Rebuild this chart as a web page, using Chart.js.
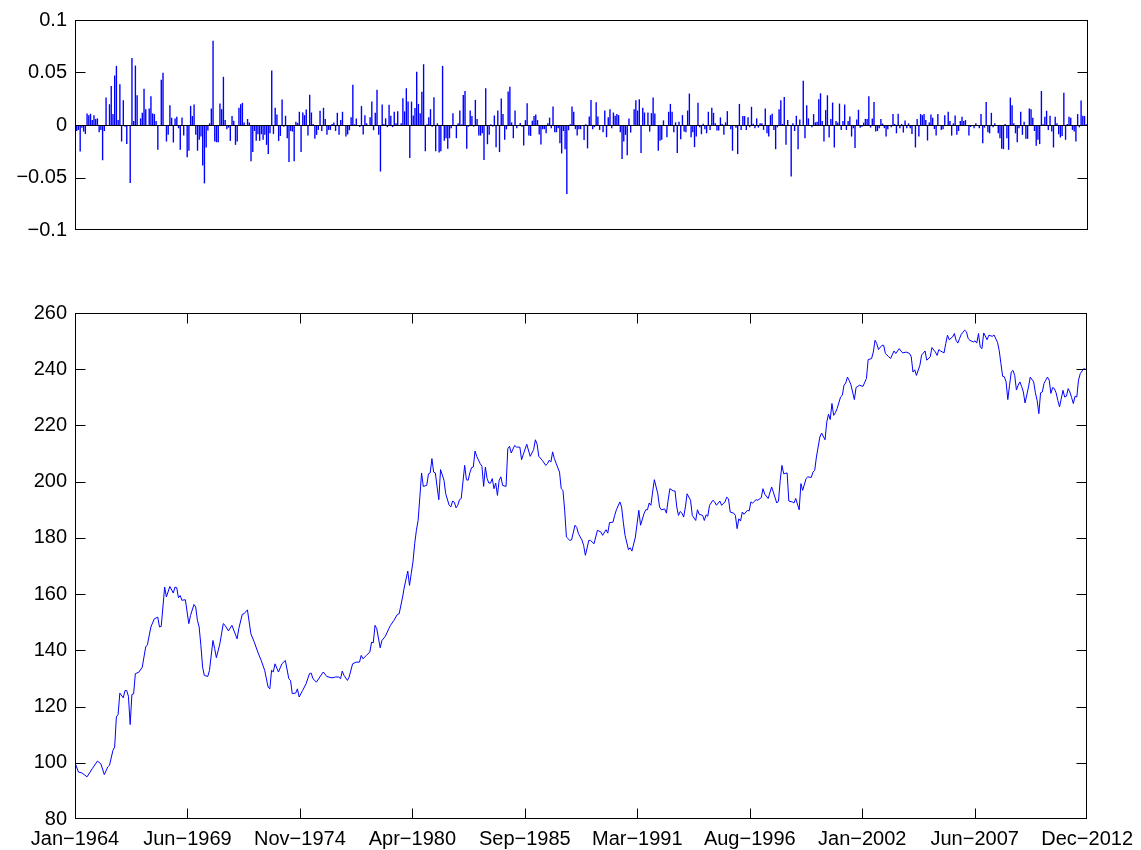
<!DOCTYPE html>
<html>
<head>
<meta charset="utf-8">
<script src="https://cdn.jsdelivr.net/npm/chart.js@4/dist/chart.umd.min.js"></script>
<style>
  html, body { margin: 0; padding: 0; background: #fff; }
  #wrap { position: relative; width: 1141px; height: 850px; }
  canvas { position: absolute; left: 0; }
  #top { top: 0; }
  #bottom { top: 290px; }
</style>
</head>
<body>
<div id="wrap">
  <canvas id="top" width="1141" height="250"></canvas>
  <canvas id="bottom" width="1141" height="560"></canvas>
</div>
<script>
// month index (0 = Jan 1964) and monthly return
const returnPoints = [
  [1,-0.0057],[2,-0.0047],[3,-0.0252],[4,-0.0025],[5,-0.0063],[6,-0.0085],[7,0.011],[8,0.0094],[9,0.0107],[10,0.0047],
  [11,0.0094],[12,0.0057],[13,0.0063],[14,-0.0069],[15,-0.0047],[16,-0.0336],[17,-0.0057],[18,0.0261],[20,0.0198],[21,0.0371],
  [22,0.0104],[23,0.0472],[24,0.0563],[25,0.0047],[26,0.0387],[27,-0.0157],[28,0.0236],[29,-0.0016],[30,-0.0182],[32,-0.0553],
  [33,0.0638],[34,0.0038],[35,0.0566],[36,0.0283],[38,0.0063],[39,0.0116],[40,0.0346],[41,0.0151],[43,0.0157],[44,0.0274],
  [45,0.011],[46,0.0104],[47,0.0038],[48,-0.0236],[50,0.0431],[51,0.0497],[53,-0.0157],[54,-0.0094],[55,0.0189],[56,0.0069],
  [57,-0.0167],[58,0.0063],[59,0.0079],[60,-0.0031],[61,-0.0236],[62,0.0072],[63,-0.0101],[65,-0.0308],[66,-0.0245],[67,0.0182],
  [68,0.0085],[69,0.0195],[70,-0.0094],[71,-0.0245],[72,-0.0141],[73,-0.011],[74,-0.0386],[75,-0.0556],[76,-0.0214],[77,-0.0053],
  [78,0.0016],[79,0.0157],[80,0.0802],[81,-0.0157],[82,-0.0164],[83,-0.0164],[84,0.0204],[85,0.0151],[86,0.0459],[87,0.0047],
  [88,-0.0041],[89,-0.0025],[90,-0.0151],[91,0.0085],[92,0.0041],[93,-0.0189],[94,-0.0157],[95,0.0164],[96,0.0198],[97,0.0211],
  [98,0.0025],[100,0.0057],[101,0.0025],[102,-0.0346],[103,-0.0258],[104,-0.0057],[105,-0.0151],[106,-0.0088],[107,-0.0151],[108,-0.0088],
  [109,-0.0141],[110,-0.0094],[111,-0.0189],[112,-0.0277],[113,-0.0079],[114,0.0519],[115,-0.0085],[116,0.0164],[117,0.0101],[118,-0.0151],
  [119,-0.0104],[120,0.0242],[121,-0.0016],[122,0.0088],[123,-0.0126],[124,-0.0352],[125,-0.0057],[126,-0.0063],[127,-0.0346],[128,0.0031],
  [129,0.002],[130,0.0126],[131,-0.0258],[132,0.0119],[133,0.0094],[134,0.0148],[135,-0.0101],[136,0.0289],[137,0.0119],[138,0.001],
  [139,-0.0132],[140,-0.0094],[141,-0.0047],[142,0.0135],[143,-0.0057],[144,0.0164],[145,0.0057],[146,-0.0094],[147,-0.0047],[148,-0.0047],
  [149,0.001],[150,0.0025],[151,-0.0057],[152,0.0116],[153,-0.0094],[154,0.0047],
  [155,0.0126],[157,-0.011],[158,-0.009],[159,-0.005],[160,0.0075],[161,0.0384],[162,0.0006],[163,0.0063],[165,-0.002],[166,0.018],
  [167,-0.009],[168,0.0094],[169,0.0016],[171,0.0075],[172,0.0223],[173,-0.005],[174,0.0116],[175,0.0336],[176,-0.0094],[177,-0.0443],
  [178,0.0195],[179,0.001],[180,0.0063],[181,-0.002],[182,0.0192],[183,0.0088],[184,-0.002],[185,0.0126],[186,0.0016],[187,0.0132],
  [189,0.0016],[190,0.0255],[191,0.013],[192,0.035],[193,0.0223],[194,-0.0314],[195,0.0223],[196,0.0091],[197,0.0162],[198,0.0506],
  [199,0.0201],[200,0.0113],[201,0.0317],[202,0.0579],[203,-0.025],[204,0.0006],[205,0.0075],[206,0.0151],[207,-0.0016],[208,0.0264],
  [209,-0.025],[210,0.0016],[211,-0.0261],[212,-0.025],[213,0.0563],[214,-0.0151],[215,-0.0126],[216,-0.0226],[217,-0.0126],[218,-0.003],
  [219,0.0111],[221,-0.0126],[222,0.0016],[223,0.0138],[224,0.0006],[225,0.0286],[226,0.0324],[227,-0.0226],[228,-0.0016],[229,0.0138],
  [230,0.0085],[231,-0.0016],[232,0.0239],[233,0.0057],[234,-0.0101],[235,-0.0101],[236,-0.0079],[237,-0.0333],[238,0.0349],[239,-0.0183],
  [240,-0.0094],[241,0.0006],[242,-0.0016],[243,0.0091],[244,-0.0211],[245,0.0138],[246,-0.0258],[247,0.0252],[248,0.0104],[249,-0.0141],
  [250,-0.0041],[251,0.0318],[252,0.0365],[253,0.0025],[254,-0.0126],[255,0.0138],[256,-0.003],[257,-0.001],[258,0.002],[259,-0.0016],
  [260,-0.0195],[261,0.0047],[262,0.0207],[263,-0.0101],[264,-0.0104],[265,0.0041],[266,0.0085],[267,0.01],[268,0.0047],[269,-0.009],
  [270,-0.0186],[271,-0.004],[272,-0.004],[273,-0.0079],[274,0.0016],[275,0.007],[276,-0.003],[277,0.0176],[278,-0.0069],[279,-0.0069],
  [280,-0.003],[281,-0.0173],[282,-0.0271],[283,-0.0057],[284,-0.023],[285,-0.0657],[286,-0.005],[287,0.0006],[288,0.0176],[289,0.0126],
  [290,-0.004],[291,-0.0101],[292,-0.004],[293,-0.004],[295,-0.0142],[296,0.0006],[297,-0.0223],[298,0.0082],[299,0.0239],[300,-0.004],
  [301,-0.002],[302,0.0217],[303,0.0082],
  [304,-0.0047],[306,-0.0069],[307,0.0138],[308,-0.0116],[309,0.0075],[310,0.0151],[311,-0.003],[312,0.0119],[313,0.0088],[314,0.0104],
  [315,0.0094],[316,-0.0069],[317,-0.0324],[318,-0.0157],[319,-0.0094],[320,-0.0289],[321,0.0063],[322,-0.0072],[324,0.0151],[325,0.0236],
  [326,0.0138],[327,0.0245],[328,-0.0267],[329,0.0164],[330,0.0119],[332,0.0119],[333,-0.0063],[334,0.0113],[335,0.0261],[336,0.011],
  [338,-0.0245],[339,-0.0151],[340,-0.0141],[341,0.0044],[343,-0.0116],[344,0.0126],[345,0.0201],[346,0.0126],[347,-0.0069],[348,0.0025],
  [349,-0.0267],[350,0.003],[351,-0.0135],[352,0.0094],[353,-0.0063],[354,-0.0069],[355,0.0138],[356,0.0299],[357,-0.0116],[358,-0.0069],
  [359,-0.0211],[360,-0.011],[361,0.0211],[362,-0.0022],[363,-0.0088],[364,0.0013],[365,-0.0041],[366,-0.0079],[367,0.0126],[368,-0.0047],
  [369,0.0164],[370,0.0116],[371,0.0016],[372,-0.0053],[373,-0.0053],[374,0.0072],[375,0.001],[376,-0.0094],[377,0.0025],[378,0.0132],
  [380,-0.0041],[381,-0.0245],[383,-0.0025],[384,-0.0277],[385,0.0201],[386,-0.0047],[387,0.0085],[388,0.0085],[389,-0.0047],[390,0.0075],
  [391,-0.0022],[392,0.0173],[393,0.0013],[394,-0.003],[395,0.0063],[396,-0.0025],[397,0.0016],[398,0.0016],[399,-0.0047],[400,0.0157],
  [401,-0.0079],[402,-0.011],[403,0.0094],[404,0.0107],[405,-0.0047],[406,-0.023],[407,-0.0022],[408,0.0151],[409,0.0236],[410,0.001],
  [411,0.0267],[412,-0.0189],[413,0.0047],[415,-0.0491],[416,0.0016],[417,-0.0057],[418,0.0088],[419,-0.023],[420,0.0053],[422,0.0421],
  [423,-0.0126],[424,0.0189],[425,0.0063],[427,-0.0022],[428,0.0104],[429,0.0025],[430,0.0031],[431,0.0245],[432,0.0302],[433,0.0038],
  [434,-0.0157],[435,0.0142],[436,0.0283],[437,-0.0119],[438,0.0057],[439,0.0214],[440,-0.0214],[441,0.0038],[442,0.0025],[443,0.0204],
  [444,-0.0047],[445,0.0038],[446,0.0195],[447,-0.0047],[448,0.0038],[449,0.0082],[450,-0.011],[451,-0.003],[452,-0.022],[453,0.0053],
  [454,0.0145],
  [455,-0.0025],[456,-0.0016],[457,0.0022],[458,0.0057],[459,0.0057],[460,0.0274],[461,-0.0025],[462,0.0063],[463,0.022],[464,-0.0063],
  [465,-0.0057],[466,-0.003],[467,0.0057],[468,0.0013],[469,-0.003],[470,-0.011],[471,-0.0041],[473,-0.0022],[474,0.0104],[475,0.001],
  [476,-0.0079],[477,0.0107],[478,-0.003],[479,0.001],[480,-0.0072],[481,0.0044],[482,-0.003],[483,0.0016],[484,-0.003],[485,-0.0085],
  [487,-0.0214],[488,0.0057],[489,-0.011],[490,0.0104],[491,0.0094],[492,0.0104],[493,0.0047],[494,-0.0148],[495,0.0025],[496,0.0101],
  [497,0.0069],[498,-0.0038],[499,-0.0101],[500,0.0104],[502,-0.0047],[503,-0.0041],[504,0.0094],[506,0.0126],[507,0.0038],[508,-0.0101],
  [509,0.0016],[510,0.0091],[511,-0.0094],[512,-0.0057],[513,0.0038],[514,0.0079],[515,0.0038],[516,0.0047],[517,-0.001],[518,-0.0101],
  [519,-0.0019],[521,-0.003],[522,0.0016],[524,-0.003],[525,0.0104],[526,-0.0173],[527,-0.0025],[528,0.022],[529,-0.0069],[530,-0.0079],
  [531,0.0116],[532,-0.0022],[533,0.0016],[535,-0.0079],[536,-0.0126],[537,-0.0226],[538,-0.023],[539,0.001],[540,-0.0126],[541,-0.0236],
  [542,0.0261],[543,0.0189],[544,0.0016],[545,-0.0079],[546,-0.0164],[547,-0.003],[548,0.0126],[549,-0.0094],[550,0.0031],[551,-0.0132],
  [552,-0.0132],[553,0.0157],[554,0.0151],[555,0.0069],[556,-0.0057],[557,-0.0198],[558,-0.0141],[559,-0.0182],[560,0.0324],[561,0.0006],
  [562,0.0079],[563,0.0135],[564,-0.0047],[565,0.0088],[566,-0.0063],[567,-0.0214],[568,0.0079],[569,0.0016],[570,-0.0088],[571,-0.0119],
  [572,-0.0104],[573,0.0308],[574,-0.0141],[575,0.001],[576,0.0079],[577,0.0069],[578,-0.0047],[579,-0.0063],[580,-0.0157],[581,0.0104],
  [582,-0.0022],[583,0.0233],[584,0.0088],[585,0.0085],[586,0.0006]
];

// month index and index level
const levelPoints = [
  [0,100],[2,96.7],[4,96.4],[7,95.0],[10,97.9],[13,100.6],[15,99.6],[17,95.8],[19,98.5],[20,99.1],
  [22,104.4],[23,105.6],[24,116.3],[25,117.2],[26,124.8],[28,123.1],[29,125.7],[30,125.7],[31,123.6],[32,113.6],
  [33,124.3],[34,124.5],[35,131.7],[37,132.2],[39,134.0],[41,141.2],[42,142.0],[44,148.3],[46,151.2],[48,151.8],
  [49,148.3],[50,148.5],[52,162.5],[53,159.0],[55,162.7],[57,160.4],[58,162.5],[59,162.3],[60,158.7],[61,159.5],
  [62,157.8],[64,158.0],[66,149.5],[67,152.4],[69,156.3],[70,155.4],[71,150.7],[72,148.3],[73,141.8],[74,134.0],
  [75,131.1],[77,130.7],[78,132.9],[80,143.5],[81,140.6],[82,137.4],[84,142.3],[86,149.5],[87,148.9],[89,146.9],
  [91,148.9],[94,144.1],[95,147.7],[97,152.8],[98,153.0],[100,154.4],[102,145.9],[104,142.9],[106,139.4],[108,136.4],
  [110,132.9],[112,126.9],[113,126.3],[114,132.9],[115,132.3],[116,135.2],[118,132.3],[120,135.2],[122,136.4],[124,129.9],
  [125,129.3],[126,124.6],[128,124.8],[129,126.3],[130,123.4],[132,125.7],[134,128.1],[136,131.7],[137,131.9],[138,129.9],
  [140,128.7],[142,130.5],[144,132.3],[146,130.7],[149,130.2],[151,130.5],[153,130.5],
  [154,129.9],[155,132.6],[156,131.1],[158,129.3],[159,130.5],[161,135.2],[163,135.8],[165,135.8],[166,138.2],[167,137.0],
  [169,138.2],[171,139.4],[172,142.9],[173,142.7],[174,148.9],[175,147.7],[177,140.9],[178,143.5],[180,145.0],[182,147.7],
  [183,148.9],[185,150.7],[187,152.8],[188,153.0],[190,159.0],[191,162.5],[193,168.2],[194,163.1],[195,167.3],[196,171.4],
  [197,177.9],[198,182.7],[199,186.2],[200,194.5],[201,203.1],[202,198.3],[204,198.7],[205,202.8],[206,203.1],[207,208.2],
  [208,203.4],[209,203.1],[210,198.1],[211,193.6],[212,204.3],[214,200.5],[215,195.7],[217,191.6],[218,191.0],[219,193.1],
  [220,192.7],[221,190.7],[222,191.6],[223,193.6],[224,194.0],[226,205.8],[227,200.7],[228,200.5],[229,203.1],[230,205.0],
  [231,205.2],[232,210.9],[233,209.0],[235,206.4],[236,205.5],[237,198.3],[238,205.2],[239,201.1],[240,199.5],[241,199.5],
  [242,201.1],[243,197.5],[244,199.5],[245,195.1],[246,200.5],[247,201.7],[248,198.7],[250,198.3],[251,211.7],[252,212.6],
  [253,210.2],[255,212.9],[256,212.3],[257,212.3],[258,212.3],[259,207.8],[260,209.7],[262,213.3],[264,209.0],[266,211.4],
  [267,214.9],[268,213.3],[269,209.0],[271,207.6],[273,205.8],[274,206.4],[275,207.6],[276,207.0],[277,210.6],[278,208.2],
  [279,206.6],[281,203.4],[282,197.5],[283,196.9],[284,189.8],[285,180.3],[287,179.1],[288,179.3],[290,184.5],[291,183.7],
  [292,181.5],[293,180.3],[294,179.3],[295,177.3],[296,173.8],[298,179.1],[299,179.1],[301,177.9],[303,182.7],
  [305,182.1],[306,180.9],[308,182.9],[309,181.7],[310,185.4],[312,185.6],[313,188.0],[314,190.0],[316,192.8],[317,191.0],
  [318,185.6],[319,180.9],[321,175.8],[322,176.5],[323,175.3],[325,180.3],[326,185.1],[327,189.8],[328,184.5],[330,188.6],
  [331,190.0],[332,190.0],[333,192.4],[334,191.6],[335,196.3],[336,200.7],[338,195.7],[339,191.0],[340,190.0],[342,190.3],
  [343,188.8],[344,193.4],[345,197.5],[347,196.7],[348,196.7],[349,191.0],[350,188.0],[351,189.4],[352,188.8],[353,187.4],
  [354,191.0],[355,195.7],[357,193.4],[358,188.0],[360,186.2],[361,190.0],[362,188.4],[364,188.0],[365,186.2],[366,188.2],
  [367,187.7],[368,191.6],[370,193.4],[371,192.8],[372,191.6],[374,193.1],[375,191.6],[377,192.8],[378,194.5],[379,193.9],
  [380,189.2],[382,188.8],[383,188.0],[384,183.3],[385,186.8],[386,186.0],[387,189.2],[388,188.4],[390,189.8],[391,189.6],
  [392,192.8],[393,192.4],[395,193.6],[396,193.4],[398,194.3],[399,197.5],[400,195.6],[402,194.0],[404,198.1],[405,196.3],
  [407,192.4],[408,193.1],[409,200.5],[410,205.8],[411,202.8],[413,203.1],[414,193.1],[416,192.8],[417,192.4],[418,194.0],
  [420,190.0],[421,199.3],[422,196.9],[424,201.1],[425,201.7],[427,201.5],[428,203.4],[429,204.0],[430,208.8],[432,215.9],
  [433,217.3],[435,214.9],[436,221.2],[437,224.0],[438,222.1],[439,227.8],[440,223.6],[441,224.5],[442,226.0],[444,230.1],
  [445,230.7],[446,234.3],[447,235.1],[448,237.2],[449,236.0],[450,234.5],[452,229.2],[453,233.5],[455,234.3],
  [457,233.9],[459,236.7],[460,243.4],[462,243.8],[463,246.1],[464,250.3],[465,249.1],[466,247.0],[468,248.5],[469,248.5],
  [470,245.6],[472,244.4],[473,243.8],[475,246.5],[476,245.6],[478,247.3],[479,246.5],[480,245.8],[482,246.1],[484,245.6],
  [485,244.4],[486,239.0],[487,239.8],[488,237.8],[490,241.4],[491,245.0],[493,246.5],[494,243.2],[496,244.4],[497,247.7],
  [499,246.1],[500,244.9],[501,247.0],[502,246.5],[504,245.8],[505,249.1],[506,252.1],[507,250.5],[509,251.5],[510,252.7],
  [511,250.3],[512,249.3],[513,250.9],[514,252.4],[516,253.9],[517,253.3],[518,250.9],[519,250.3],[521,249.7],[522,250.1],
  [523,249.3],[524,252.7],[525,247.9],[526,247.3],[527,252.9],[529,250.5],[530,252.1],[532,251.7],[533,252.2],[535,249.6],
  [536,246.7],[537,242.0],[538,237.5],[539,237.3],[540,235.5],[541,229.2],[542,234.3],[543,239.0],[544,239.6],[545,237.8],
  [546,232.6],[547,234.3],[548,235.5],[549,233.9],[550,231.9],[551,228.0],[553,233.7],[554,237.2],[556,235.5],[557,231.6],
  [558,228.9],[559,224.2],[560,231.6],[561,231.9],[562,234.9],[563,236.1],[564,237.2],[565,236.1],[566,231.4],[567,233.5],
  [568,233.1],[569,231.6],[570,228.9],[571,226.6],[573,232.5],[574,230.1],[575,230.4],[576,233.1],[577,231.9],[578,229.9],
  [579,227.8],[580,230.4],[581,230.1],[582,236.1],[583,238.4],[585,240.2],[587,239.8]
];

const xTickLabels = ['Jan\u22121964', 'Jun\u22121969', 'Nov\u22121974', 'Apr\u22121980', 'Sep\u22121985',
                     'Mar\u22121991', 'Aug\u22121996', 'Jan\u22122002', 'Jun\u22122007', 'Dec\u22122012'];
const topTickValues = [-0.1, -0.05, 0, 0.05, 0.1];
const topTickLabels = ['\u22120.1', '\u22120.05', '0', '0.05', '0.1'];
const lastMonth = 587;

const font = { family: '"Liberation Sans", Arial, Helvetica, sans-serif', size: 20 };
const blue = 'rgb(0,0,255)';

// box round the plot area, tick marks pointing inwards, zero line on the upper panel
const framePlugin = {
  id: 'frame',
  afterDraw(chart, args, opts) {
    const ctx = chart.ctx;
    const a = chart.chartArea;
    const L = Math.round(a.left) + 0.5, R = Math.round(a.right) - 0.5;
    const T = Math.round(a.top) + 0.5, B = Math.round(a.bottom) - 0.5;
    const len = 10;
    ctx.save();
    ctx.strokeStyle = '#000';
    ctx.lineWidth = 1;
    ctx.beginPath();
    const ys = chart.scales.y;
    ys.ticks.forEach(t => {
      const p = Math.round(ys.getPixelForValue(t.value)) + 0.5;
      if (p < T + 2 || p > B - 2) return;  // ends sit on the box
      ctx.moveTo(L, p); ctx.lineTo(L + len, p);
      ctx.moveTo(R, p); ctx.lineTo(R - len, p);
    });
    if (opts.xTicks) {
      const xs = chart.scales.x;
      xs.ticks.forEach(t => {
        const p = Math.round(xs.getPixelForValue(t.value)) + 0.5;
        if (p < L + 2 || p > R - 2) return;
        ctx.moveTo(p, T); ctx.lineTo(p, T + len);
        ctx.moveTo(p, B); ctx.lineTo(p, B - len);
      });
    }
    if (opts.zeroLine) {
      const z = Math.round(ys.getPixelForValue(0)) + 0.5;
      ctx.moveTo(L, z); ctx.lineTo(R, z);
    }
    ctx.stroke();
    ctx.strokeRect(L, T, R - L, B - T);
    ctx.restore();
  }
};

new Chart(document.getElementById('top'), {
  type: 'bar',
  data: {
    datasets: [{
      data: returnPoints.map(p => ({ x: p[0], y: p[1] })),
      backgroundColor: blue,
      borderWidth: 0,
      barPercentage: 0.8,
      categoryPercentage: 1
    }]
  },
  options: {
    responsive: false,
    animation: false,
    layout: { padding: { top: 18, right: 53, bottom: 18, left: 0 } },
    plugins: {
      legend: { display: false },
      tooltip: { enabled: false },
      frame: { xTicks: false, zeroLine: true }
    },
    scales: {
      x: { type: 'linear', min: 0, max: lastMonth, offset: false, display: false },
      y: {
        min: -0.1,
        max: 0.1,
        afterFit: s => { s.width = 75; },
        afterBuildTicks: s => { s.ticks = topTickValues.map(v => ({ value: v })); },
        ticks: { callback: (v, i) => topTickLabels[i], color: '#000', font: font, padding: 8 },
        grid: { display: false, drawTicks: false },
        border: { display: false }
      }
    }
  },
  plugins: [framePlugin]
});

new Chart(document.getElementById('bottom'), {
  type: 'line',
  data: {
    datasets: [{
      data: levelPoints.map(p => ({ x: p[0], y: p[1] })),
      borderColor: blue,
      borderWidth: 1,
      pointRadius: 0,
      tension: 0,
      fill: false
    }]
  },
  options: {
    responsive: false,
    animation: false,
    layout: { padding: { top: 23, right: 53, bottom: 0, left: 0 } },
    plugins: {
      legend: { display: false },
      tooltip: { enabled: false },
      frame: { xTicks: true, zeroLine: false }
    },
    scales: {
      x: {
        type: 'linear',
        min: 0,
        max: lastMonth,
        offset: false,
        afterFit: s => { s.height = 31; },
        afterBuildTicks: s => {
          s.ticks = xTickLabels.map((_, i) => ({ value: i * lastMonth / (xTickLabels.length - 1) }));
        },
        ticks: { callback: (v, i) => xTickLabels[i], autoSkip: false, maxRotation: 0, color: '#000', font: font, padding: 8 },
        grid: { display: false, drawTicks: false },
        border: { display: false }
      },
      y: {
        min: 80,
        max: 260,
        afterFit: s => { s.width = 75; },
        ticks: { stepSize: 20, color: '#000', font: font, padding: 8 },
        grid: { display: false, drawTicks: false },
        border: { display: false }
      }
    }
  },
  plugins: [framePlugin]
});
</script>
</body>
</html>
